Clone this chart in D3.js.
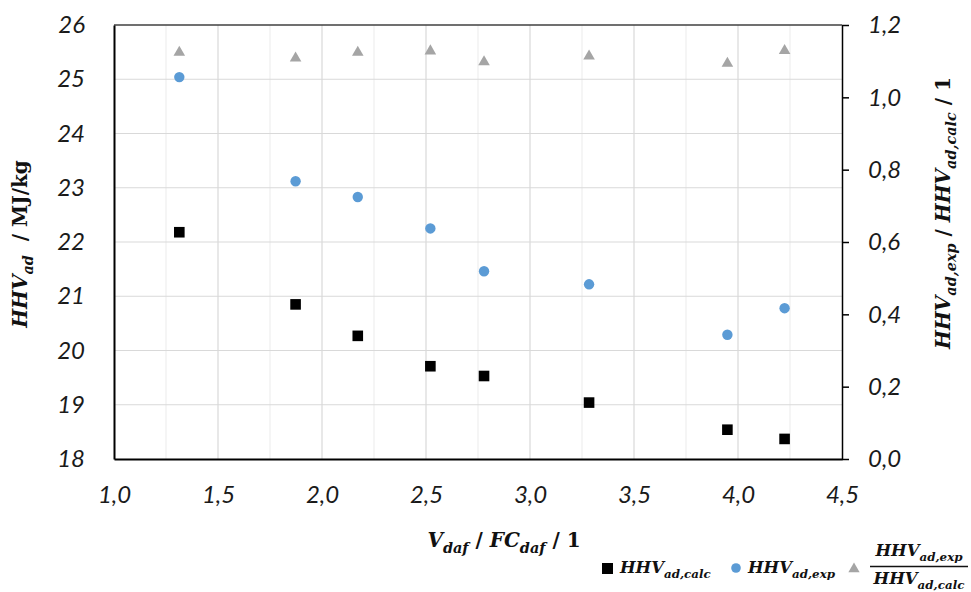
<!DOCTYPE html>
<html><head><meta charset="utf-8">
<script src="https://cdn.jsdelivr.net/npm/d3@7"></script>
<style>body{margin:0;background:#fff}</style>
</head><body><svg id="c" width="971" height="592"></svg>
<script>
// Data
const ratioVFC = [1.314, 1.873, 2.172, 2.521, 2.779, 3.284, 3.949, 4.224];
const hhvCalc  = [22.18, 20.85, 20.27, 19.71, 19.53, 19.04, 18.54, 18.37];
const hhvExp   = [25.04, 23.12, 22.83, 22.25, 21.46, 21.22, 20.29, 20.78];
const hhvRatio = [1.124, 1.108, 1.124, 1.128, 1.098, 1.114, 1.094, 1.129];
const xTicks = [1.0, 1.5, 2.0, 2.5, 3.0, 3.5, 4.0, 4.5];
const xGrid = [1.25, 1.5, 1.75, 2.0, 2.25, 2.5, 2.75, 3.0, 3.25, 3.5, 3.75, 4.0, 4.25];
const yLeftTicks = [18, 19, 20, 21, 22, 23, 24, 25, 26];
const yRightTicks = [0.0, 0.2, 0.4, 0.6, 0.8, 1.0, 1.2];

const svg = d3.select("#c");
const L = 114, R = 842, T = 25, B = 459;
const x = d3.scaleLinear().domain([1, 4.5]).range([L, R]);
const yL = d3.scaleLinear().domain([18, 26]).range([B, T]);
const yR = d3.scaleLinear().domain([0, 1.2]).range([B, T]);
const comma = f => v => d3.format(f)(v).replace(".", ",");

const tickFont = "Lato, 'Open Sans', sans-serif";
const serif = "'DejaVu Serif', 'Liberation Serif', serif";

// grid
svg.append("g").selectAll("line").data(xGrid).join("line")
  .attr("x1", d => x(d)).attr("x2", d => x(d)).attr("y1", T).attr("y2", B)
  .attr("stroke", d => (Math.abs(d * 2 - Math.round(d * 2)) < 1e-6) ? "#d9d9d9" : "#eeeeee")
  .attr("stroke-width", 1.2);
svg.append("g").selectAll("line").data(yLeftTicks.slice(1, -1)).join("line")
  .attr("x1", L).attr("x2", R).attr("y1", d => yL(d)).attr("y2", d => yL(d))
  .attr("stroke", "#d9d9d9").attr("stroke-width", 1.2);

// top border
svg.append("line").attr("x1", L).attr("x2", R).attr("y1", T).attr("y2", T)
  .attr("stroke", "#404040").attr("stroke-width", 1.5);

function styleAxis(g, w) {
  g.select(".domain").attr("stroke", "#000").attr("stroke-width", w);
  g.selectAll(".tick line").attr("stroke", "#000").attr("stroke-width", 1.5);
  g.selectAll("text").attr("font-family", tickFont).attr("font-style", "italic")
    .attr("font-size", 24).attr("fill", "#1a1a1a");
}

const gL = svg.append("g").attr("transform", `translate(${L},0)`)
  .call(d3.axisLeft(yL).tickValues(yLeftTicks).tickSize(0).tickSizeOuter(0).tickPadding(29).tickFormat(d3.format("d")));
styleAxis(gL, 2);
const gR = svg.append("g").attr("transform", `translate(${R},0)`)
  .call(d3.axisRight(yR).tickValues(yRightTicks).tickSize(7).tickSizeOuter(0).tickPadding(19).tickFormat(comma(".1f")));
styleAxis(gR, 1.5);
const gB = svg.append("g").attr("transform", `translate(0,${B})`)
  .call(d3.axisBottom(x).tickValues(xTicks).tickSize(0).tickSizeOuter(0).tickPadding(27).tickFormat(comma(".1f")));
styleAxis(gB, 2);

// marks
const pts = ratioVFC.map((v, i) => ({ v, c: hhvCalc[i], e: hhvExp[i], r: hhvRatio[i] }));
const tri = d3.symbol().type(d3.symbolTriangle).size(58);
svg.append("g").selectAll("path").data(pts).join("path")
  .attr("d", tri).attr("transform", d => `translate(${x(d.v)},${yR(d.r)})`).attr("fill", "#a5a5a5");
svg.append("g").selectAll("circle").data(pts).join("circle")
  .attr("cx", d => x(d.v)).attr("cy", d => yL(d.e)).attr("r", 5.2).attr("fill", "#5b9bd5");
svg.append("g").selectAll("rect").data(pts).join("rect")
  .attr("x", d => x(d.v) - 5.3).attr("y", d => yL(d.c) - 5.3).attr("width", 10.6).attr("height", 10.6).attr("fill", "#000");

// rich text helper: segs = [[text, kind]] kind: 'i' italic, 'n' normal, 's' subscript italic
function rich(parent, segs, size, opts) {
  const t = parent.append("text").attr("font-family", serif).attr("font-weight", "bold")
    .attr("font-size", size).attr("fill", "#111").attr("text-anchor", opts.anchor || "middle")
    .attr("transform", opts.transform).attr("xml:space", "preserve");
  let shifted = false;
  const sub = size * 0.72, off = size * 0.32;
  segs.forEach(([s, k]) => {
    const sp = t.append("tspan").text(s);
    if (k === "s") {
      sp.attr("font-size", sub).attr("font-style", "italic");
      if (!shifted) { sp.attr("dy", off); shifted = true; }
    } else {
      sp.attr("font-style", k === "i" ? "italic" : "normal");
      if (shifted) { sp.attr("dy", -off); shifted = false; }
    }
  });
  return t;
}

// axis titles
rich(svg, [["HHV", "i"], ["ad", "s"], ["  / MJ/kg", "n"]], 20,
  { transform: "translate(27,244) rotate(-90)" });
rich(svg, [["HHV", "i"], ["ad,exp", "s"], [" / ", "n"], ["HHV", "i"], ["ad,calc", "s"], [" / 1", "n"]], 20,
  { transform: "translate(950,213) rotate(-90)" });
rich(svg, [["V", "i"], ["daf", "s"], [" / ", "n"], ["FC", "i"], ["daf", "s"], [" / 1", "n"]], 20,
  { transform: "translate(504,547)" });

// legend
const lg = svg.append("g");
lg.append("rect").attr("x", 602).attr("y", 563).attr("width", 11).attr("height", 11).attr("fill", "#000");
rich(lg, [["HHV", "i"], ["ad,calc", "s"]], 16.5, { anchor: "start", transform: "translate(620,573)" });
lg.append("circle").attr("cx", 736).attr("cy", 568).attr("r", 4.8).attr("fill", "#5b9bd5");
rich(lg, [["HHV", "i"], ["ad,exp", "s"]], 16.5, { anchor: "start", transform: "translate(748,573)" });
lg.append("path").attr("d", d3.symbol().type(d3.symbolTriangle).size(55)).attr("transform", "translate(854,569)").attr("fill", "#a5a5a5");
rich(lg, [["HHV", "i"], ["ad,exp", "s"]], 16.5, { anchor: "middle", transform: "translate(919,556)" });
lg.append("line").attr("x1", 870).attr("x2", 968).attr("y1", 566.5).attr("y2", 566.5).attr("stroke", "#111").attr("stroke-width", 1.6);
rich(lg, [["HHV", "i"], ["ad,calc", "s"]], 16.5, { anchor: "middle", transform: "translate(919,584)" });
</script></body></html>
